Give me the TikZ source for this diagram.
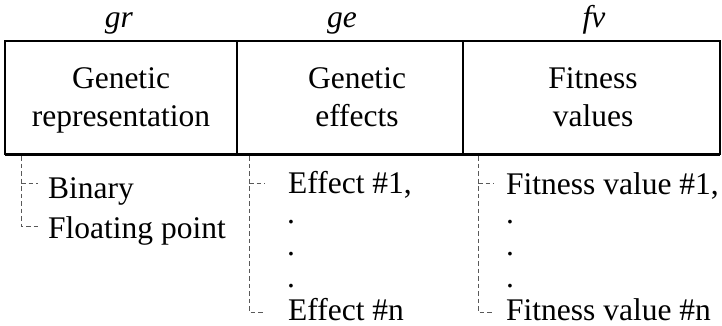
\documentclass[tikz,border=0pt]{standalone}
\usepackage{fontspec}
\setmainfont{Liberation Serif}
\begin{document}
\begin{tikzpicture}[x=1pt,y=-1pt,
  body/.style={inner sep=0pt, font=\fontsize{31.5}{38}\selectfont},
  mid/.style={body, anchor=base},
  item/.style={body, anchor=base west},
  hdr/.style={body, anchor=base, font=\fontsize{31.5}{38}\selectfont\itshape},
  cell/.style={draw=none, inner sep=0pt, minimum height=113pt},
  frame/.style={line width=2.4pt},
  divider/.style={line width=2pt},
  tree/.style={draw=black!65, line width=1pt, dash pattern=on 4.5pt off 3pt}]
\useasboundingbox (0,0) rectangle (722,325);

% the three cells of the table
\node[cell, minimum width=232pt] (cgr) at (121,97.5) {};
\node[cell, minimum width=226pt] (cge) at (350,97.5) {};
\node[cell, minimum width=257pt] (cfv) at (591.5,97.5) {};

\draw[frame] (cgr.north west) rectangle (cfv.south east);
\draw[line width=3.2pt] (cgr.south west) -- (cfv.south east);
\draw[divider] (cgr.north east) -- (cgr.south east);
\draw[divider] (cge.north east) -- (cge.south east);

% column headers
\node[hdr] (hgr) at (119,27) {gr};
\node[hdr] (hge) at (342,27) {ge};
\node[hdr] (hfv) at (594,27) {fv};

% cell texts
\node[mid] (t1a) at (121,88) {Genetic};
\node[mid] (t1b) at (121,126) {representation};
\node[mid] (t2a) at (357,88) {Genetic};
\node[mid] (t2b) at (357,126) {effects};
\node[mid] (t3a) at (593,88) {Fitness};
\node[mid] (t3b) at (593,126) {values};

% first column: representations
\node[item] (bin) at (48,198) {Binary};
\node[item] (flt) at (48,238) {Floating point};
\coordinate (r0) at (21,156);
\coordinate (r1) at (38,183);
\coordinate (r2) at (38,226);
\draw[tree] (r0) |- (r2);
\draw[tree] (r0 |- r1) -- (r1);

% second column: effects
\node[item] (e1) at (288,193) {Effect \#1,};
\node[item] (ed1) at (287,223) {.};
\node[item] (ed2) at (287,255) {.};
\node[item] (ed3) at (287,287) {.};
\node[item] (en) at (288,320) {Effect \#n};
\coordinate (g0) at (249,156);
\coordinate (g1) at (265,183);
\coordinate (g2) at (265,312);
\draw[tree] (g0) |- (g2);
\draw[tree] (g0 |- g1) -- (g1);

% third column: fitness values
\node[item] (f1) at (506,194) {Fitness value \#1,};
\node[item] (fd1) at (506,223) {.};
\node[item] (fd2) at (506,255) {.};
\node[item] (fd3) at (506,287) {.};
\node[item] (fn) at (506,320) {Fitness value \#n};
\coordinate (v0) at (478,156);
\coordinate (v1) at (494,183);
\coordinate (v2) at (494,312);
\draw[tree] (v0) |- (v2);
\draw[tree] (v0 |- v1) -- (v1);
\end{tikzpicture}
\end{document}
